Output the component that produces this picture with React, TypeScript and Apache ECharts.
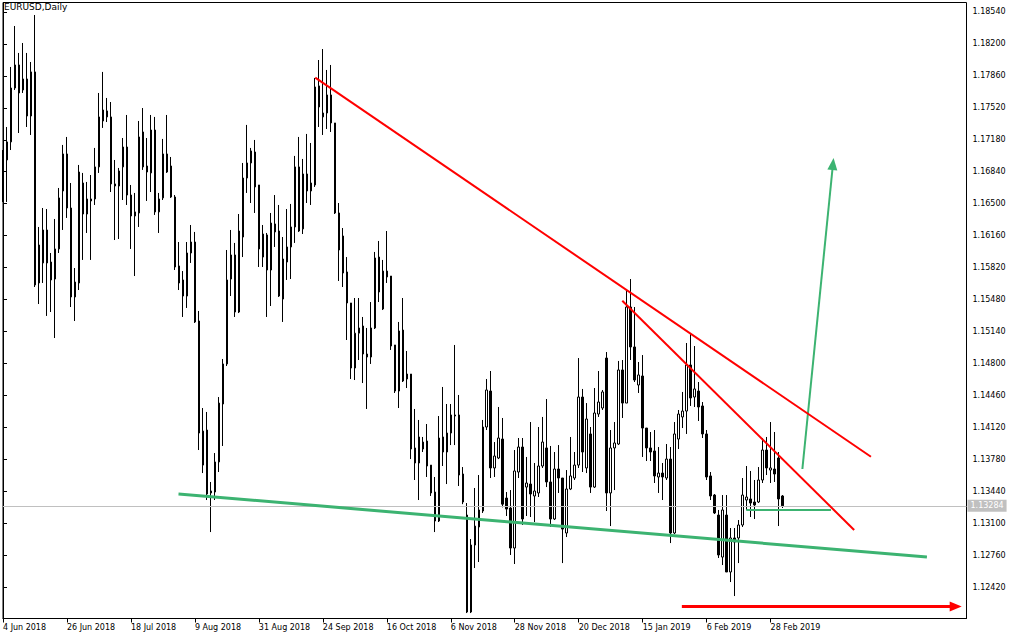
import React, { useEffect, useRef } from 'react';
import * as echarts from 'echarts';

// ---- Data (EURUSD daily) ----
const opens = [
  1.16976, 1.16965, 1.17157, 1.17731, 1.17976, 1.17710, 1.17827, 1.17433, 1.17902, 1.15656,
  1.15869, 1.16220, 1.15879, 1.15698, 1.16018, 1.16635, 1.17029, 1.16454, 1.15507, 1.15656,
  1.16720, 1.16390, 1.16550, 1.16550, 1.16891, 1.17380, 1.17487, 1.17423, 1.16710, 1.16688,
  1.16891, 1.17103, 1.16592, 1.16369, 1.16401, 1.17263, 1.16901, 1.16827, 1.17284, 1.16412,
  1.16561, 1.17029, 1.16901, 1.16571, 1.15837, 1.15688, 1.15517, 1.15975, 1.16092, 1.15251,
  1.13718, 1.14091, 1.13421, 1.13431, 1.13751, 1.14368, 1.14794, 1.15698, 1.15954, 1.15347,
  1.16145, 1.16773, 1.16933, 1.17050, 1.16699, 1.15932, 1.16167, 1.15794, 1.16284, 1.16209,
  1.15485, 1.15879, 1.16039, 1.16252, 1.16891, 1.16231, 1.16816, 1.16635, 1.16699, 1.17753,
  1.17423, 1.17465, 1.17657, 1.17359, 1.16401, 1.16156, 1.15773, 1.15443, 1.14751, 1.15122,
  1.15198, 1.14900, 1.14868, 1.15177, 1.15932, 1.15379, 1.15783, 1.15730, 1.14996, 1.14506,
  1.15155, 1.14634, 1.14687, 1.13900, 1.13740, 1.13889, 1.13974, 1.13718, 1.13431, 1.13123,
  1.14017, 1.13857, 1.14059, 1.14240, 1.14251, 1.13623, 1.13186, 1.12154, 1.12867, 1.13059,
  1.13229, 1.14123, 1.14506, 1.13687, 1.13793, 1.13995, 1.13367, 1.13261, 1.12835, 1.13644,
  1.13910, 1.13484, 1.13516, 1.13389, 1.13421, 1.13708, 1.13900, 1.13538, 1.13144, 1.13676,
  1.13580, 1.12995, 1.13463, 1.13580, 1.13718, 1.14442, 1.13687, 1.14049, 1.13484, 1.14261,
  1.14325, 1.14857, 1.13421, 1.13900, 1.13942, 1.14730, 1.14378, 1.15400, 1.14975, 1.14570,
  1.14666, 1.14112, 1.13900, 1.13868, 1.13591, 1.13633, 1.13580, 1.13782, 1.12995, 1.13995,
  1.14230, 1.14293, 1.14783, 1.14442, 1.14506, 1.14347, 1.14049, 1.13602, 1.13399, 1.13186,
  1.12739, 1.13186, 1.12580, 1.12942, 1.12942, 1.13080, 1.13346, 1.13357, 1.13325, 1.13325,
  1.13559, 1.13878, 1.13665, 1.13676, 1.13793, 1.13389,
];
const closes = [
  1.16571, 1.17157, 1.17731, 1.17976, 1.17678, 1.17827, 1.17433, 1.17902, 1.15635, 1.16060,
  1.16220, 1.15869, 1.15688, 1.16018, 1.16561, 1.17029, 1.16454, 1.15507, 1.15666, 1.16837,
  1.16390, 1.16550, 1.16529, 1.16891, 1.17423, 1.17497, 1.17423, 1.16710, 1.16688, 1.16848,
  1.17103, 1.16592, 1.16369, 1.16412, 1.17210, 1.16891, 1.16837, 1.17284, 1.16412, 1.16550,
  1.17029, 1.16837, 1.16571, 1.15826, 1.15656, 1.15517, 1.15975, 1.16092, 1.15241, 1.14059,
  1.14080, 1.13410, 1.13442, 1.13751, 1.14378, 1.14794, 1.15688, 1.15954, 1.15347, 1.16209,
  1.16773, 1.16933, 1.17061, 1.16678, 1.16018, 1.16177, 1.15794, 1.16294, 1.16199, 1.15517,
  1.15911, 1.16039, 1.16252, 1.16891, 1.16209, 1.16816, 1.16635, 1.16720, 1.17742, 1.17529,
  1.17465, 1.17657, 1.17359, 1.16401, 1.16007, 1.15762, 1.15443, 1.14751, 1.15122, 1.15177,
  1.14900, 1.14868, 1.15177, 1.15922, 1.15560, 1.15783, 1.15720, 1.14985, 1.14506, 1.15145,
  1.14613, 1.14687, 1.13889, 1.13740, 1.14017, 1.13963, 1.13708, 1.13421, 1.13123, 1.14006,
  1.13857, 1.14059, 1.14251, 1.14251, 1.13612, 1.13325, 1.12154, 1.12867, 1.13069, 1.13240,
  1.14123, 1.14517, 1.13687, 1.13814, 1.14006, 1.13302, 1.13250, 1.12835, 1.13655, 1.13910,
  1.13144, 1.13527, 1.13410, 1.13442, 1.13708, 1.13963, 1.13538, 1.13144, 1.13676, 1.13580,
  1.13037, 1.13463, 1.13602, 1.13718, 1.14442, 1.13857, 1.14208, 1.13484, 1.14272, 1.14389,
  1.14496, 1.13421, 1.13900, 1.13953, 1.14730, 1.14378, 1.15400, 1.14975, 1.14623, 1.14677,
  1.14112, 1.13900, 1.13857, 1.13602, 1.13633, 1.13591, 1.13782, 1.12995, 1.14049, 1.14261,
  1.14293, 1.14783, 1.14432, 1.14528, 1.14336, 1.14049, 1.13591, 1.13389, 1.13208, 1.12761,
  1.13240, 1.12580, 1.12942, 1.12899, 1.13080, 1.13399, 1.13378, 1.13314, 1.13293, 1.13559,
  1.13878, 1.13687, 1.13687, 1.13623, 1.13357, 1.13284,
];
const highs = [
  1.17071, 1.17316, 1.17955, 1.18391, 1.18104, 1.18210, 1.18104, 1.18008, 1.18508, 1.16252,
  1.16454, 1.16443, 1.15975, 1.16337, 1.16667, 1.17125, 1.17210, 1.16720, 1.15815, 1.16912,
  1.16827, 1.16731, 1.16805, 1.17093, 1.17678, 1.17902, 1.17625, 1.17582, 1.16965, 1.16880,
  1.17199, 1.17444, 1.16699, 1.16614, 1.17380, 1.17518, 1.17199, 1.17444, 1.17423, 1.16614,
  1.17189, 1.17444, 1.16997, 1.16592, 1.16092, 1.15783, 1.16092, 1.16273, 1.16199, 1.15358,
  1.14325, 1.14283, 1.13538, 1.13846, 1.14442, 1.14847, 1.16007, 1.16220, 1.16082, 1.16390,
  1.16933, 1.17338, 1.17093, 1.17178, 1.16699, 1.16273, 1.16188, 1.16401, 1.16592, 1.16486,
  1.16145, 1.16443, 1.16497, 1.17008, 1.17210, 1.16976, 1.17242, 1.17146, 1.17838, 1.18029,
  1.18146, 1.17923, 1.17976, 1.17359, 1.16507, 1.16241, 1.15932, 1.15443, 1.15496, 1.15496,
  1.15294, 1.15177, 1.15453, 1.15986, 1.16103, 1.15901, 1.16209, 1.15730, 1.14996, 1.15241,
  1.15496, 1.14932, 1.14687, 1.14315, 1.14198, 1.14017, 1.14155, 1.13718, 1.13591, 1.14240,
  1.14549, 1.14368, 1.14368, 1.14996, 1.14464, 1.13697, 1.13314, 1.12931, 1.13474, 1.13612,
  1.14198, 1.14634, 1.14719, 1.13963, 1.14336, 1.14219, 1.13431, 1.13452, 1.13878, 1.14006,
  1.14006, 1.13804, 1.14176, 1.13740, 1.14123, 1.14230, 1.14421, 1.13921, 1.13857, 1.13931,
  1.13580, 1.13665, 1.14017, 1.13857, 1.14857, 1.14528, 1.14378, 1.14123, 1.14538, 1.14719,
  1.14517, 1.14921, 1.14091, 1.14176, 1.14826, 1.14836, 1.15581, 1.15698, 1.15400, 1.14815,
  1.14889, 1.14112, 1.14070, 1.14091, 1.13910, 1.13740, 1.13942, 1.13910, 1.14176, 1.14304,
  1.14496, 1.15017, 1.15122, 1.14985, 1.14602, 1.14389, 1.14091, 1.13644, 1.13410, 1.13240,
  1.13399, 1.13399, 1.13048, 1.13048, 1.13133, 1.13580, 1.13708, 1.13655, 1.13559, 1.13697,
  1.14006, 1.14017, 1.14176, 1.14070, 1.13857, 1.13399,
];
const lows = [
  1.16518, 1.16518, 1.17071, 1.17710, 1.17252, 1.17678, 1.17316, 1.17231, 1.15613, 1.15432,
  1.15656, 1.15305, 1.15347, 1.15070, 1.15975, 1.16220, 1.16348, 1.15400, 1.15251, 1.15581,
  1.15901, 1.16188, 1.15901, 1.16486, 1.16827, 1.17306, 1.17369, 1.16624, 1.16113, 1.16124,
  1.16539, 1.16486, 1.16018, 1.15730, 1.16252, 1.16859, 1.16529, 1.16624, 1.16380, 1.16188,
  1.16539, 1.16827, 1.16561, 1.15794, 1.15581, 1.15294, 1.15390, 1.15869, 1.15230, 1.13878,
  1.13633, 1.13346, 1.13005, 1.13346, 1.13644, 1.13921, 1.14772, 1.15517, 1.15294, 1.15336,
  1.15932, 1.16614, 1.16507, 1.16401, 1.15826, 1.15826, 1.15294, 1.15411, 1.16039, 1.15507,
  1.15241, 1.15688, 1.15698, 1.16082, 1.16199, 1.16177, 1.16507, 1.16486, 1.16678, 1.17316,
  1.17231, 1.17295, 1.17263, 1.16390, 1.15677, 1.15613, 1.15049, 1.14634, 1.14623, 1.14836,
  1.14591, 1.14315, 1.14794, 1.15166, 1.15453, 1.15368, 1.15656, 1.14943, 1.14485, 1.14325,
  1.14602, 1.14538, 1.13782, 1.13559, 1.13346, 1.13857, 1.13591, 1.13389, 1.13005, 1.13112,
  1.13708, 1.13516, 1.13931, 1.13931, 1.13495, 1.13302, 1.12143, 1.12143, 1.12622, 1.12686,
  1.13208, 1.14091, 1.13580, 1.13591, 1.13782, 1.13268, 1.13176, 1.12761, 1.12665, 1.13580,
  1.13080, 1.13176, 1.13165, 1.13112, 1.13378, 1.13687, 1.13484, 1.13059, 1.13133, 1.13421,
  1.12675, 1.12952, 1.13452, 1.13559, 1.13687, 1.13644, 1.13633, 1.13421, 1.13474, 1.14230,
  1.14304, 1.13229, 1.13069, 1.13452, 1.13931, 1.14219, 1.14378, 1.14836, 1.14602, 1.14485,
  1.13804, 1.13761, 1.13761, 1.13527, 1.13421, 1.13346, 1.13559, 1.12888, 1.12984, 1.13889,
  1.14112, 1.14049, 1.14347, 1.14336, 1.14187, 1.14006, 1.13559, 1.13346, 1.13197, 1.12729,
  1.12654, 1.12580, 1.12473, 1.12324, 1.12675, 1.13059, 1.13240, 1.13165, 1.13144, 1.13314,
  1.13527, 1.13612, 1.13527, 1.13538, 1.13069, 1.13261,
];

const xTickLabels = [
  '4 Jun 2018', '26 Jun 2018', '18 Jul 2018', '9 Aug 2018', '31 Aug 2018', '24 Sep 2018',
  '16 Oct 2018', '6 Nov 2018', '28 Nov 2018', '20 Dec 2018', '15 Jan 2019', '6 Feb 2019', '28 Feb 2019',
];
const barsPerXTick = 16;
const yTicks = [
  1.12420, 1.12760, 1.13100, 1.13440, 1.13780, 1.14120, 1.14460, 1.14800, 1.15140, 1.15480,
  1.15820, 1.16160, 1.16500, 1.16840, 1.17180, 1.17520, 1.17860, 1.18200, 1.18540,
];
const lastPrice = 1.13284;
const totalSlots = 242; // bars + empty space to the right
const yMin = 1.12085;
const yMax = 1.18641;

// Drawings: [bar position, price]
const redTrendUpper = [[78.1, 1.17841], [217.1, 1.13807]];
const redTrendLower = [[154.9, 1.15467], [212.9, 1.13027]];
const greenSupport = [[43.9, 1.1341], [231.1, 1.12739]];
const greenLevel = [[185.9, 1.1324], [207.1, 1.1324]];
const greenArrow = [[199.95, 1.13676], [207.6, 1.16922]];
const redArrow = [[169.8, 1.12212], [238.3, 1.12212]];

const RED = '#ff0000';
const GREEN = '#3cb371';
const FONT = 'DejaVu Sans';

export default function App() {
  const ref = useRef<HTMLDivElement>(null);

  useEffect(() => {
    if (!ref.current) return;
    const chart = echarts.init(ref.current, undefined, { renderer: 'svg' });
    const categories = Array.from({ length: totalSlots }, (_, i) => String(i));
    const candles = opens.map((o, i) => [o, closes[i], lows[i], highs[i]]);
    const showX = (idx: number) =>
      idx % barsPerXTick === 0 && idx / barsPerXTick < xTickLabels.length;

    const trend = (pts: number[][], color: string, width: number) => ({
      type: 'line',
      xAxisIndex: 1,
      yAxisIndex: 0,
      data: pts,
      symbol: 'none',
      showSymbol: false,
      silent: true,
      z: 5,
      lineStyle: { color, width },
      emphasis: { disabled: true },
    });

    chart.setOption({
      animation: false,
      backgroundColor: '#ffffff',
      title: {
        text: 'EURUSD,Daily',
        left: 4,
        top: 2,
        padding: 0,
        textStyle: { fontSize: 9, fontWeight: 'normal', fontFamily: FONT, color: '#000' },
      },
      grid: {
        left: 2.5,
        top: 2.5,
        width: 964,
        height: 616,
        show: true,
        borderColor: '#000',
        borderWidth: 1,
        backgroundColor: 'transparent',
      },
      xAxis: [
        {
          type: 'category',
          data: categories,
          boundaryGap: false,
          axisLine: { show: true, lineStyle: { color: '#000', width: 1 } },
          axisTick: {
            show: true,
            length: 4,
            interval: (idx: number) => showX(idx),
            lineStyle: { color: '#000' },
          },
          axisLabel: {
            interval: (idx: number) => showX(idx),
            formatter: (_v: string, idx: number) => xTickLabels[idx / barsPerXTick] ?? '',
            align: 'left',
            margin: 5,
            fontSize: 8,
            fontFamily: FONT,
            color: '#000',
          },
          splitLine: { show: false },
        },
        {
          type: 'value',
          min: 0,
          max: totalSlots - 1,
          show: false,
        },
      ],
      yAxis: {
        type: 'value',
        position: 'right',
        min: yMin,
        max: yMax,
        scale: true,
        axisLine: { show: true, lineStyle: { color: '#000', width: 1 } },
        axisTick: { show: true, length: 4, customValues: yTicks, lineStyle: { color: '#000' } },
        axisLabel: {
          customValues: yTicks,
          formatter: (v: number) => v.toFixed(5),
          margin: 6,
          fontSize: 8,
          fontFamily: FONT,
          color: '#000',
        },
        splitLine: { show: false },
      },
      series: [
        {
          // current price line, behind the candles
          type: 'line',
          xAxisIndex: 1,
          yAxisIndex: 0,
          data: [],
          silent: true,
          z: 1,
          markLine: {
            silent: true,
            symbol: 'none',
            animation: false,
            precision: 5,
            lineStyle: { color: '#c0c0c0', width: 1, type: 'solid' },
            emphasis: { disabled: true },
            label: {
              show: true,
              position: 'end',
              distance: 1,
              formatter: () => lastPrice.toFixed(5),
              backgroundColor: '#c0c0c0',
              color: '#ffffff',
              fontSize: 8,
              fontFamily: FONT,
              padding: [2, 3, 2, 3],
            },
            data: [{ yAxis: lastPrice }],
          },
        },
        {
          type: 'candlestick',
          xAxisIndex: 0,
          yAxisIndex: 0,
          data: candles,
          barWidth: 2,
          silent: true,
          z: 3,
          itemStyle: {
            color: '#ffffff',
            color0: '#000000',
            borderColor: '#000000',
            borderColor0: '#000000',
            borderColorDoji: '#000000',
            borderWidth: 1,
          },
          emphasis: { disabled: true },
        },
        trend(redTrendUpper, RED, 2),
        trend(redTrendLower, RED, 2),
        trend(greenSupport, GREEN, 3),
        trend(greenLevel, GREEN, 2),
        {
          type: 'line',
          xAxisIndex: 1,
          yAxisIndex: 0,
          data: [],
          silent: true,
          z: 5,
          markLine: {
            silent: true,
            animation: false,
            precision: 5,
            symbol: ['none', 'triangle'],
            symbolSize: [10, 12],
            label: { show: false },
            emphasis: { disabled: true },
            data: [
              [
                { coord: greenArrow[0], lineStyle: { color: GREEN, width: 2, type: 'solid' } },
                { coord: greenArrow[1] },
              ],
              [
                { coord: redArrow[0], lineStyle: { color: RED, width: 3, type: 'solid' } },
                { coord: redArrow[1] },
              ],
            ],
          },
        },
      ],
    });

    return () => chart.dispose();
  }, []);

  return (
    <div
      ref={ref}
      style={{ position: 'fixed', left: 0, top: 0, width: 1018, height: 640, background: '#fff' }}
    />
  );
}
